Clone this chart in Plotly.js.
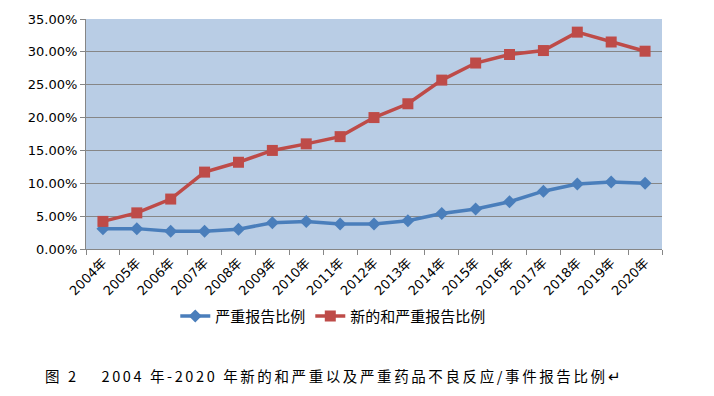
<!DOCTYPE html>
<html><head><meta charset="utf-8">
<script src="https://cdn.plot.ly/plotly-3.0.1.min.js"></script>
<style>html,body{margin:0;padding:0;background:#fff}#c{width:714px;height:396px}
.annotation-text{letter-spacing:2.6px}</style>
</head><body><div id="c"></div>
<script>
const years = ["2004年","2005年","2006年","2007年","2008年","2009年","2010年","2011年","2012年","2013年","2014年","2015年","2016年","2017年","2018年","2019年","2020年"];
const seriousRatio = [0.031,0.031,0.027,0.027,0.030,0.040,0.042,0.038,0.038,0.043,0.054,0.061,0.072,0.088,0.099,0.102,0.100];
const newSeriousRatio = [0.042,0.055,0.076,0.117,0.132,0.150,0.160,0.171,0.200,0.221,0.257,0.283,0.296,0.302,0.330,0.315,0.301];
const yTicks = [0,0.05,0.10,0.15,0.20,0.25,0.30,0.35];
const yTickText = ["0.00%","5.00%","10.00%","15.00%","20.00%","25.00%","30.00%","35.00%"];

const traces = [
 {x: years, y: seriousRatio, name: "严重报告比例", type: "scatter", mode: "lines+markers",
  line: {color: "#4A7EBB", width: 3.5}, marker: {symbol: "diamond", size: 10, color: "#4A7EBB"}},
 {x: years, y: newSeriousRatio, name: "新的和严重报告比例", type: "scatter", mode: "lines+markers",
  line: {color: "#BE4B48", width: 3.5}, marker: {symbol: "square", size: 11, color: "#BE4B48"}}
];
const layout = {
 width: 714, height: 396,
 margin: {l: 86, r: 52, t: 19, b: 147},
 paper_bgcolor: "#ffffff", plot_bgcolor: "#B9CDE5",
 font: {family: "DejaVu Sans, Verdana, sans-serif", color: "#000", size: 12},
 showlegend: true,
 legend: {orientation: "h", x: 0.155, xanchor: "left", y: -0.292, yanchor: "middle",
  font: {family: "Noto Sans CJK SC", size: 15, color: "#000"}, itemwidth: 30, tracegroupgap: 0, bgcolor: "rgba(0,0,0,0)"},
 xaxis: {type: "category", tickangle: -45, ticks: "outside", tickson: "boundaries", ticklen: 5,
  tickcolor: "#868686", showline: true, linecolor: "#868686", linewidth: 1, showgrid: false,
  tickfont: {family: "DejaVu Sans, Noto Sans CJK SC", size: 13}, range: [-0.5, 16.5]},
 yaxis: {range: [0, 0.35], tickvals: yTicks, ticktext: yTickText, ticks: "outside", ticklen: 5,
  tickcolor: "#868686", showline: true, linecolor: "#868686", gridcolor: "#868686", gridwidth: 1,
  zeroline: false, tickfont: {family: "DejaVu Sans", size: 13}},
 annotations: [{xref: "paper", yref: "paper", x: -0.0747, y: -0.55, xanchor: "left", yanchor: "middle",
  showarrow: false, text: "图 2　 2004 年-2020 年新的和严重以及严重药品不良反应/事件报告比例↵",
  font: {family: "Noto Sans CJK SC", size: 14.5, color: "#000"}}]
};
Plotly.newPlot("c", traces, layout, {staticPlot: true, displayModeBar: false});
</script></body></html>
